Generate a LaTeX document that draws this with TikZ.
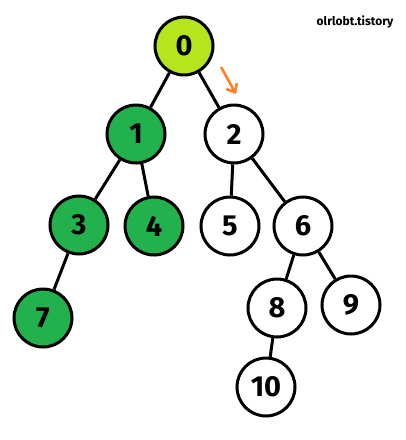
\documentclass[tikz,border=0pt]{standalone}
\usepackage{fontspec}
\setmainfont{Fira Sans}
\usetikzlibrary{arrows.meta}
\definecolor{limeg}{HTML}{B5E61D}
\definecolor{paintgreen}{HTML}{22B14C}
\definecolor{paintorange}{HTML}{FF7F27}
\tikzset{
  vtx/.style={circle, draw=black, line width=3pt, minimum size=58pt, inner sep=0pt,
    font=\fontsize{29}{29}\selectfont\bfseries, fill=white},
  visited/.style={fill=paintgreen},
  current/.style={fill=limeg},
  edge/.style={line width=3pt, black},
}
\begin{document}
\begin{tikzpicture}[x=1pt,y=-1pt]
\useasboundingbox (0,0) rectangle (406,440);
\fill[white] (0,0) rectangle (406,440);
\node[vtx,current] (n0) at (184,46) {0};
\node[vtx,visited] (n1) at (136,134) {1};
\node[vtx] (n2) at (234,134) {2};
\node[vtx,visited] (n3) at (79,225) {3};
\node[vtx,visited] (n4) at (154,226) {4};
\node[vtx] (n5) at (230,226) {5};
\node[vtx] (n6) at (303,226) {6};
\node[vtx,visited] (n7) at (43,318) {7};
\node[vtx] (n8) at (277,308) {8};
\node[vtx] (n9) at (351,305) {9};
\node[vtx] (n10) at (266,387) {10};
\draw[edge] (n0) -- (n1);
\draw[edge] (n0) -- (n2);
\draw[edge] (n1) -- (n3);
\draw[edge] (n1) -- (n4);
\draw[edge] (n2) -- (n5);
\draw[edge] (n2) -- (n6);
\draw[edge] (n3) -- (n7);
\draw[edge] (n6) -- (n8);
\draw[edge] (n6) -- (n9);
\draw[edge] (n8) -- (n10);
\coordinate (a1) at (221,67);
\coordinate (a2) at (236,94);
\draw[paintorange, line width=2.6pt, -{Straight Barb[length=7pt,width=12pt]}] (a1) -- (a2);
\node[font=\fontsize{12}{12}\selectfont\bfseries] (wm) at (355,22) {olrlobt.tistory};
\end{tikzpicture}
\end{document}
